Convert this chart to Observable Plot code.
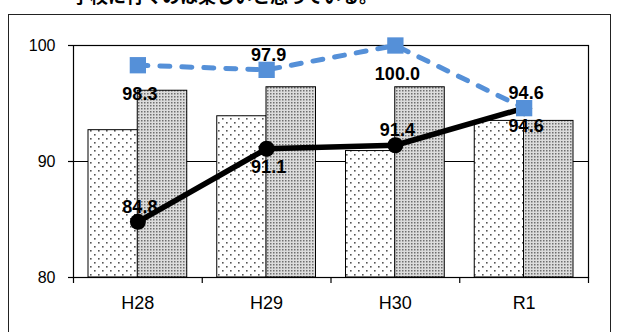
<!DOCTYPE html>
<html><head><meta charset="utf-8">
<script src="https://cdn.jsdelivr.net/npm/d3@7"></script>
<script src="https://cdn.jsdelivr.net/npm/@observablehq/plot@0.6"></script>
<style>
html,body{margin:0;padding:0;background:#fff;overflow:hidden;width:625px;height:332px;}
#wrap{position:relative;width:625px;height:332px;}
#title{position:absolute;left:72px;top:-14px;font:bold 18px "Noto Sans CJK JP",sans-serif;color:#000;white-space:nowrap;line-height:18px;}
#box{position:absolute;left:8px;top:14px;width:601px;height:340px;border:1.5px solid #222;}
#chart{position:absolute;left:0;top:0;}
</style></head>
<body><div id="wrap"><div id="title">学校に行くのは楽しいと思っている。</div><div id="box"></div><div id="chart"></div></div>
<script>
const categories = ["H28", "H29", "H30", "R1"];
const barA = [92.7, 93.9, 90.9, 93.5];
const barB = [96.1, 96.4, 96.4, 93.5];
const lineBlack = [84.8, 91.1, 91.4, 94.6];
const lineBlue = [98.3, 97.9, 100.0, 94.6];
const yTicks = [80, 90, 100];
const blackPlace = ["above", "below", "above", "below"];
const bluePlace = ["below", "above", "below", "above"];

const rows = categories.map((c, i) => ({
  c, i, a: barA[i], b: barB[i], k: lineBlack[i], u: lineBlue[i],
  kp: blackPlace[i], up: bluePlace[i]
}));
const cx = d => d.i + 0.5;
const lab = v => v.toFixed(1);

const chart = Plot.plot({
  width: 625, height: 332,
  marginLeft: 73, marginRight: 37, marginTop: 45, marginBottom: 55,
  style: {fontFamily: "'Liberation Sans', Arial, sans-serif", background: "transparent", color: "#000", overflow: "visible"},
  x: {type: "linear", domain: [0, 4], axis: null},
  y: {domain: [80, 100], axis: null},
  marks: [
    Plot.ruleY([90], {stroke: "#000", strokeWidth: 1}),
    Plot.rect(rows, {x1: d => d.i, x2: d => d.i + 1, y1: 80, y2: "a", fill: "url(#patA)", stroke: "#000", strokeWidth: 1, insetLeft: 15, insetRight: 64.25}),
    Plot.rect(rows, {x1: d => d.i, x2: d => d.i + 1, y1: 80, y2: "b", fill: "url(#patB)", stroke: "#000", strokeWidth: 1, insetLeft: 64.25, insetRight: 15}),
    Plot.frame({stroke: "#000", strokeWidth: 1.2}),
    Plot.axisY({ticks: yTicks, tickSize: 5, tickPadding: 13, fontSize: 16, stroke: "#000", strokeWidth: 1.2}),
    Plot.axisX({ticks: [0, 1, 2, 3, 4], tickSize: 6, tickFormat: () => "", stroke: "#000", strokeWidth: 1.2}),
    Plot.text(rows, {x: cx, y: 80, text: "c", dy: 26, fontSize: 18, lineAnchor: "middle", fill: "#000"}),
    Plot.line(rows, {x: cx, y: "k", stroke: "#000", strokeWidth: 5.5}),
    Plot.dot(rows, {x: cx, y: "k", r: 8, fill: "#000"}),
    Plot.line(rows, {x: cx, y: "u", stroke: "#5590d8", strokeWidth: 5, strokeDasharray: "10,12", strokeLinecap: "round"}),
    Plot.dot(rows, {x: cx, y: "u", symbol: "square", r: 9.2, fill: "#5590d8", stroke: "none"}),
    Plot.text(rows.filter(d => d.up === "below"), {x: cx, y: "u", text: d => lab(d.u), dy: 29, dx: 2, fontSize: 18, fontWeight: "bold", lineAnchor: "middle", fill: "#000"}),
    Plot.text(rows.filter(d => d.up === "above"), {x: cx, y: "u", text: d => lab(d.u), dy: -15, dx: 2, fontSize: 18, fontWeight: "bold", lineAnchor: "middle", fill: "#000"}),
    Plot.text(rows.filter(d => d.kp === "above"), {x: cx, y: "k", text: d => lab(d.k), dy: -15, dx: 2, fontSize: 18, fontWeight: "bold", lineAnchor: "middle", fill: "#000"}),
    Plot.text(rows.filter(d => d.kp === "below"), {x: cx, y: "k", text: d => lab(d.k), dy: 18, dx: 2, fontSize: 18, fontWeight: "bold", lineAnchor: "middle", fill: "#000"})
  ]
});

const ns = "http://www.w3.org/2000/svg";
const defs = document.createElementNS(ns, "defs");
defs.innerHTML = `
<pattern id="patA" patternUnits="userSpaceOnUse" width="8" height="8">
  <rect width="8" height="8" fill="#fff"/>
  <rect x="2" y="2" width="1.6" height="1.6" fill="#555"/>
  <rect x="6" y="6" width="1.6" height="1.6" fill="#555"/>
</pattern>
<pattern id="patB" patternUnits="userSpaceOnUse" width="3" height="3">
  <rect width="3" height="3" fill="#dcdcdc"/>
  <rect x="0" y="0" width="1.5" height="1.5" fill="#6e6e6e"/>
</pattern>`;
chart.insertBefore(defs, chart.firstChild);
document.getElementById("chart").appendChild(chart);
</script>
</body></html>
